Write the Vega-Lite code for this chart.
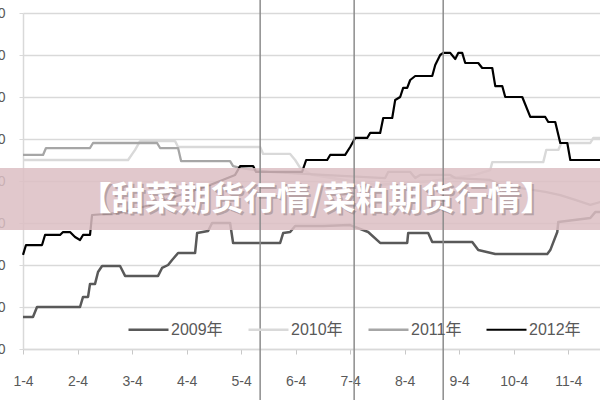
{
  "$schema": "https://vega.github.io/schema/vega-lite/v6.json",
  "autosize": {"type": "none"},
  "padding": {"left": 23, "top": 13, "right": 0, "bottom": 51},
  "width": 578,
  "height": 336,
  "background": "#ffffff",
  "config": {
    "view": {"stroke": null},
    "font": "Liberation Sans, Noto Sans CJK SC, sans-serif"
  },
  "datasets": {
    "prices": [
      {"year": "2009年", "month": 1.000, "price": 2152},
      {"year": "2009年", "month": 1.183, "price": 2152},
      {"year": "2009年", "month": 1.257, "price": 2200},
      {"year": "2009年", "month": 2.046, "price": 2200},
      {"year": "2009年", "month": 2.101, "price": 2248},
      {"year": "2009年", "month": 2.193, "price": 2248},
      {"year": "2009年", "month": 2.229, "price": 2310},
      {"year": "2009年", "month": 2.321, "price": 2310},
      {"year": "2009年", "month": 2.376, "price": 2367},
      {"year": "2009年", "month": 2.450, "price": 2395},
      {"year": "2009年", "month": 2.780, "price": 2395},
      {"year": "2009年", "month": 2.872, "price": 2348},
      {"year": "2009年", "month": 3.477, "price": 2348},
      {"year": "2009年", "month": 3.550, "price": 2386},
      {"year": "2009年", "month": 3.661, "price": 2400},
      {"year": "2009年", "month": 3.734, "price": 2424},
      {"year": "2009年", "month": 3.844, "price": 2457},
      {"year": "2009年", "month": 4.156, "price": 2457},
      {"year": "2009年", "month": 4.193, "price": 2552},
      {"year": "2009年", "month": 4.394, "price": 2562},
      {"year": "2009年", "month": 4.468, "price": 2600},
      {"year": "2009年", "month": 4.798, "price": 2600},
      {"year": "2009年", "month": 4.853, "price": 2505},
      {"year": "2009年", "month": 5.716, "price": 2505},
      {"year": "2009年", "month": 5.771, "price": 2552},
      {"year": "2009年", "month": 5.899, "price": 2557},
      {"year": "2009年", "month": 5.991, "price": 2586},
      {"year": "2009年", "month": 6.500, "price": 2586},
      {"year": "2009年", "month": 7.000, "price": 2590},
      {"year": "2009年", "month": 7.330, "price": 2557},
      {"year": "2009年", "month": 7.550, "price": 2505},
      {"year": "2009年", "month": 8.046, "price": 2505},
      {"year": "2009年", "month": 8.064, "price": 2552},
      {"year": "2009年", "month": 8.431, "price": 2552},
      {"year": "2009年", "month": 8.505, "price": 2510},
      {"year": "2009年", "month": 9.239, "price": 2510},
      {"year": "2009年", "month": 9.349, "price": 2471},
      {"year": "2009年", "month": 9.661, "price": 2452},
      {"year": "2009年", "month": 10.615, "price": 2452},
      {"year": "2009年", "month": 10.670, "price": 2471},
      {"year": "2009年", "month": 10.798, "price": 2557},
      {"year": "2009年", "month": 10.817, "price": 2605},
      {"year": "2009年", "month": 11.404, "price": 2624},
      {"year": "2009年", "month": 11.495, "price": 2652},
      {"year": "2009年", "month": 11.587, "price": 2652},

      {"year": "2010年", "month": 1.000, "price": 2900},
      {"year": "2010年", "month": 2.927, "price": 2900},
      {"year": "2010年", "month": 3.055, "price": 2948},
      {"year": "2010年", "month": 3.147, "price": 2990},
      {"year": "2010年", "month": 3.789, "price": 2990},
      {"year": "2010年", "month": 3.844, "price": 2962},
      {"year": "2010年", "month": 5.349, "price": 2962},
      {"year": "2010年", "month": 5.404, "price": 2929},
      {"year": "2010年", "month": 5.899, "price": 2929},
      {"year": "2010年", "month": 5.991, "price": 2900},
      {"year": "2010年", "month": 6.083, "price": 2862},
      {"year": "2010年", "month": 6.300, "price": 2830},
      {"year": "2010年", "month": 7.000, "price": 2800},
      {"year": "2010年", "month": 7.500, "price": 2781},
      {"year": "2010年", "month": 8.500, "price": 2800},
      {"year": "2010年", "month": 9.300, "price": 2830},
      {"year": "2010年", "month": 9.569, "price": 2852},
      {"year": "2010年", "month": 9.606, "price": 2890},
      {"year": "2010年", "month": 10.541, "price": 2890},
      {"year": "2010年", "month": 10.596, "price": 2948},
      {"year": "2010年", "month": 10.817, "price": 2948},
      {"year": "2010年", "month": 10.872, "price": 2981},
      {"year": "2010年", "month": 11.404, "price": 2981},
      {"year": "2010年", "month": 11.459, "price": 3005},
      {"year": "2010年", "month": 11.587, "price": 3005},

      {"year": "2011年", "month": 1.000, "price": 2924},
      {"year": "2011年", "month": 1.367, "price": 2924},
      {"year": "2011年", "month": 1.422, "price": 2957},
      {"year": "2011年", "month": 2.229, "price": 2957},
      {"year": "2011年", "month": 2.284, "price": 2981},
      {"year": "2011年", "month": 3.459, "price": 2981},
      {"year": "2011年", "month": 3.514, "price": 2957},
      {"year": "2011年", "month": 3.844, "price": 2957},
      {"year": "2011年", "month": 3.899, "price": 2895},
      {"year": "2011年", "month": 4.798, "price": 2895},
      {"year": "2011年", "month": 4.853, "price": 2871},
      {"year": "2011年", "month": 4.982, "price": 2862},
      {"year": "2011年", "month": 5.500, "price": 2843},
      {"year": "2011年", "month": 6.500, "price": 2829},
      {"year": "2011年", "month": 7.642, "price": 2814},
      {"year": "2011年", "month": 7.697, "price": 2843},
      {"year": "2011年", "month": 8.101, "price": 2843},
      {"year": "2011年", "month": 8.193, "price": 2814},
      {"year": "2011年", "month": 8.284, "price": 2829},
      {"year": "2011年", "month": 8.835, "price": 2829},
      {"year": "2011年", "month": 8.927, "price": 2814},
      {"year": "2011年", "month": 9.569, "price": 2805},
      {"year": "2011年", "month": 9.752, "price": 2781},
      {"year": "2011年", "month": 10.578, "price": 2748},
      {"year": "2011年", "month": 10.853, "price": 2733},
      {"year": "2011年", "month": 11.128, "price": 2710},
      {"year": "2011年", "month": 11.404, "price": 2686},
      {"year": "2011年", "month": 11.587, "price": 2700},

      {"year": "2012年", "month": 1.000, "price": 2448},
      {"year": "2012年", "month": 1.055, "price": 2495},
      {"year": "2012年", "month": 1.349, "price": 2495},
      {"year": "2012年", "month": 1.404, "price": 2543},
      {"year": "2012年", "month": 1.679, "price": 2543},
      {"year": "2012年", "month": 1.734, "price": 2557},
      {"year": "2012年", "month": 1.862, "price": 2557},
      {"year": "2012年", "month": 1.954, "price": 2533},
      {"year": "2012年", "month": 2.046, "price": 2519},
      {"year": "2012年", "month": 2.101, "price": 2543},
      {"year": "2012年", "month": 2.229, "price": 2543},
      {"year": "2012年", "month": 2.266, "price": 2638},
      {"year": "2012年", "month": 2.780, "price": 2648},
      {"year": "2012年", "month": 3.330, "price": 2686},
      {"year": "2012年", "month": 3.881, "price": 2733},
      {"year": "2012年", "month": 4.431, "price": 2781},
      {"year": "2012年", "month": 4.890, "price": 2829},
      {"year": "2012年", "month": 4.982, "price": 2871},
      {"year": "2012年", "month": 5.220, "price": 2871},
      {"year": "2012年", "month": 5.275, "price": 2843},
      {"year": "2012年", "month": 6.119, "price": 2843},
      {"year": "2012年", "month": 6.193, "price": 2900},
      {"year": "2012年", "month": 6.578, "price": 2900},
      {"year": "2012年", "month": 6.633, "price": 2924},
      {"year": "2012年", "month": 6.908, "price": 2924},
      {"year": "2012年", "month": 7.000, "price": 2962},
      {"year": "2012年", "month": 7.092, "price": 3005},
      {"year": "2012年", "month": 7.312, "price": 3005},
      {"year": "2012年", "month": 7.367, "price": 3029},
      {"year": "2012年", "month": 7.550, "price": 3029},
      {"year": "2012年", "month": 7.606, "price": 3100},
      {"year": "2012年", "month": 7.771, "price": 3100},
      {"year": "2012年", "month": 7.826, "price": 3186},
      {"year": "2012年", "month": 7.917, "price": 3200},
      {"year": "2012年", "month": 7.972, "price": 3243},
      {"year": "2012年", "month": 8.046, "price": 3243},
      {"year": "2012年", "month": 8.101, "price": 3281},
      {"year": "2012年", "month": 8.193, "price": 3300},
      {"year": "2012年", "month": 8.505, "price": 3300},
      {"year": "2012年", "month": 8.560, "price": 3352},
      {"year": "2012年", "month": 8.651, "price": 3400},
      {"year": "2012年", "month": 8.706, "price": 3410},
      {"year": "2012年", "month": 8.835, "price": 3410},
      {"year": "2012年", "month": 8.927, "price": 3381},
      {"year": "2012年", "month": 8.982, "price": 3410},
      {"year": "2012年", "month": 9.055, "price": 3410},
      {"year": "2012年", "month": 9.110, "price": 3362},
      {"year": "2012年", "month": 9.349, "price": 3362},
      {"year": "2012年", "month": 9.422, "price": 3338},
      {"year": "2012年", "month": 9.606, "price": 3338},
      {"year": "2012年", "month": 9.661, "price": 3252},
      {"year": "2012年", "month": 9.789, "price": 3252},
      {"year": "2012年", "month": 9.844, "price": 3200},
      {"year": "2012年", "month": 10.156, "price": 3200},
      {"year": "2012年", "month": 10.303, "price": 3105},
      {"year": "2012年", "month": 10.578, "price": 3105},
      {"year": "2012年", "month": 10.633, "price": 3081},
      {"year": "2012年", "month": 10.761, "price": 3081},
      {"year": "2012年", "month": 10.853, "price": 2981},
      {"year": "2012年", "month": 10.982, "price": 2981},
      {"year": "2012年", "month": 11.037, "price": 2900},
      {"year": "2012年", "month": 11.587, "price": 2900}
    ],
    "markers": [
      {"month": 5.349},
      {"month": 7.073},
      {"month": 8.706}
    ],
    "banner": [
      {"label": "【甜菜期货行情/菜粕期货行情】"}
    ]
  },
  "layer": [
    {
      "data": {"name": "prices"},
      "mark": {"type": "line", "interpolate": "linear", "strokeJoin": "round"},
      "encoding": {
        "x": {
          "field": "month", "type": "quantitative",
          "scale": {"domain": [1, 11.6], "nice": false, "zero": false},
          "axis": {
            "title": null,
            "values": [1, 2, 3, 4, 5, 6, 7, 8, 9, 10, 11],
            "labelExpr": "datum.value + '-4'",
            "grid": false,
            "domainColor": "#d9d9d9",
            "domainWidth": 1.5,
            "tickColor": "#c8c8c8",
            "tickSize": 5,
            "labelPadding": 20,
            "labelFont": "Liberation Sans",
            "labelFontSize": 14,
            "labelColor": "#595959",
            "labelOverlap": false,
            "labelFlush": false
          }
        },
        "y": {
          "field": "price", "type": "quantitative",
          "scale": {"domain": [2000, 3600], "nice": false, "zero": false},
          "axis": {
            "title": null,
            "values": [2000, 2200, 2400, 2600, 2800, 3000, 3200, 3400, 3600],
            "grid": true,
            "gridColor": "#d9d9d9",
            "gridWidth": 1.5,
            "domainColor": "#d9d9d9",
            "domainWidth": 1.5,
            "tickColor": "#d9d9d9",
            "tickSize": 4,
            "labelPadding": 14,
            "labelFont": "Liberation Sans",
            "labelFontSize": 14,
            "labelColor": "#595959",
            "labelFlush": false
          }
        },
        "color": {
          "field": "year", "type": "nominal",
          "scale": {
            "domain": ["2009年", "2010年", "2011年", "2012年"],
            "range": ["#595959", "#d9d9d9", "#a6a6a6", "#000000"]
          },
          "legend": {
            "title": null,
            "orient": "none",
            "direction": "horizontal",
            "legendX": 104,
            "legendY": 295,
            "padding": 0,
            "symbolType": "stroke",
            "symbolSize": 1600,
            "symbolStrokeWidth": 3,
            "labelFont": "Liberation Sans, Noto Sans CJK SC, sans-serif",
            "labelFontSize": 16,
            "labelColor": "#595959",
            "labelOffset": 1,
            "columnPadding": 20
          }
        },
        "strokeWidth": {
          "field": "year", "type": "nominal",
          "scale": {
            "domain": ["2009年", "2010年", "2011年", "2012年"],
            "range": [2.5, 2.2, 2.5, 3]
          },
          "legend": null
        }
      }
    },
    {
      "data": {"name": "banner"},
      "mark": {"type": "rect", "fill": "#dcbec3", "opacity": 0.85},
      "encoding": {
        "x": {"datum": 0.5},
        "x2": {"datum": 11.7},
        "y": {"datum": 2862},
        "y2": {"datum": 2567}
      }
    },
    {
      "data": {"name": "markers"},
      "mark": {"type": "rule", "color": "#8c8c8c", "strokeWidth": 1.5},
      "encoding": {
        "x": {"field": "month", "type": "quantitative"},
        "y": {"datum": 3700},
        "y2": {"datum": 1700}
      }
    },
    {
      "data": {"name": "banner"},
      "mark": {
        "type": "text", "font": "Noto Sans CJK SC", "fontWeight": "bold",
        "fontSize": 33, "color": "#7a6a6c", "opacity": 0.4,
        "align": "center", "baseline": "middle", "dx": 2, "dy": 2
      },
      "encoding": {
        "x": {"datum": 6.376},
        "y": {"datum": 2710},
        "text": {"field": "label"}
      }
    },
    {
      "data": {"name": "banner"},
      "mark": {
        "type": "text", "font": "Noto Sans CJK SC", "fontWeight": "bold",
        "fontSize": 33, "color": "#ffffff",
        "align": "center", "baseline": "middle"
      },
      "encoding": {
        "x": {"datum": 6.376},
        "y": {"datum": 2710},
        "text": {"field": "label"}
      }
    }
  ]
}
